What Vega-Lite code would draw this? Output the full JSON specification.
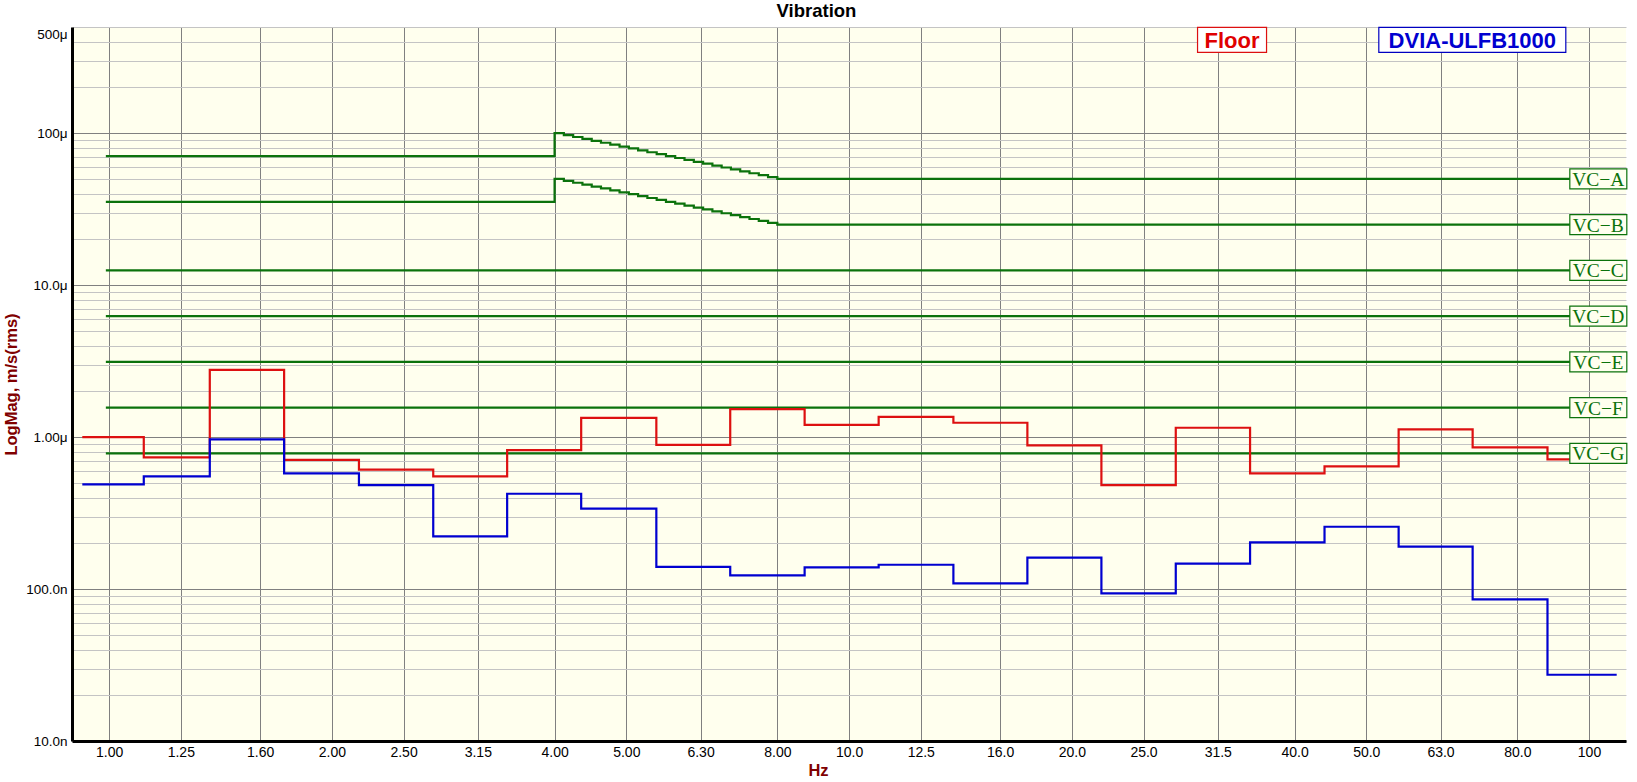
{
  "$schema": "https://vega.github.io/schema/vega-lite/v6.json",
  "autosize": {"type": "none"},
  "width": 1554,
  "height": 714,
  "padding": {"left": 72, "top": 27, "right": 11, "bottom": 41},
  "background": "white",
  "config": {"view": {"fill": "#FFFFEE", "stroke": null}},
  "title": {"text": "Vibration", "font": "Liberation Sans", "fontSize": 18.5, "fontWeight": "bold", "color": "black", "anchor": "middle", "frame": "bounds", "offset": 5},
  "datasets": {
    "spec": [
      {"series": "Floor", "f": 0.920, "v": 1.00e-6},
      {"series": "Floor", "f": 1.114, "v": 0.735e-6},
      {"series": "Floor", "f": 1.368, "v": 2.77e-6},
      {"series": "Floor", "f": 1.724, "v": 0.709e-6},
      {"series": "Floor", "f": 2.176, "v": 0.610e-6},
      {"series": "Floor", "f": 2.742, "v": 0.551e-6},
      {"series": "Floor", "f": 3.451, "v": 0.821e-6},
      {"series": "Floor", "f": 4.345, "v": 1.34e-6},
      {"series": "Floor", "f": 5.490, "v": 0.890e-6},
      {"series": "Floor", "f": 6.909, "v": 1.53e-6},
      {"series": "Floor", "f": 8.709, "v": 1.205e-6},
      {"series": "Floor", "f": 10.965, "v": 1.36e-6},
      {"series": "Floor", "f": 13.836, "v": 1.243e-6},
      {"series": "Floor", "f": 17.418, "v": 0.882e-6},
      {"series": "Floor", "f": 21.93, "v": 0.483e-6},
      {"series": "Floor", "f": 27.64, "v": 1.152e-6},
      {"series": "Floor", "f": 34.83, "v": 0.577e-6},
      {"series": "Floor", "f": 43.91, "v": 0.641e-6},
      {"series": "Floor", "f": 55.30, "v": 1.123e-6},
      {"series": "Floor", "f": 69.62, "v": 0.855e-6},
      {"series": "Floor", "f": 87.88, "v": 0.713e-6},
      {"series": "Floor", "f": 109.0, "v": 0.713e-6},
      {"series": "DVIA-ULFB1000", "f": 0.920, "v": 0.488e-6},
      {"series": "DVIA-ULFB1000", "f": 1.114, "v": 0.551e-6},
      {"series": "DVIA-ULFB1000", "f": 1.368, "v": 0.965e-6},
      {"series": "DVIA-ULFB1000", "f": 1.724, "v": 0.577e-6},
      {"series": "DVIA-ULFB1000", "f": 2.176, "v": 0.483e-6},
      {"series": "DVIA-ULFB1000", "f": 2.742, "v": 0.222e-6},
      {"series": "DVIA-ULFB1000", "f": 3.451, "v": 0.424e-6},
      {"series": "DVIA-ULFB1000", "f": 4.345, "v": 0.338e-6},
      {"series": "DVIA-ULFB1000", "f": 5.490, "v": 0.140e-6},
      {"series": "DVIA-ULFB1000", "f": 6.909, "v": 0.123e-6},
      {"series": "DVIA-ULFB1000", "f": 8.709, "v": 0.139e-6},
      {"series": "DVIA-ULFB1000", "f": 10.965, "v": 0.1445e-6},
      {"series": "DVIA-ULFB1000", "f": 13.836, "v": 0.109e-6},
      {"series": "DVIA-ULFB1000", "f": 17.418, "v": 0.1608e-6},
      {"series": "DVIA-ULFB1000", "f": 21.93, "v": 0.0936e-6},
      {"series": "DVIA-ULFB1000", "f": 27.64, "v": 0.1468e-6},
      {"series": "DVIA-ULFB1000", "f": 34.83, "v": 0.2028e-6},
      {"series": "DVIA-ULFB1000", "f": 43.91, "v": 0.257e-6},
      {"series": "DVIA-ULFB1000", "f": 55.30, "v": 0.190e-6},
      {"series": "DVIA-ULFB1000", "f": 69.62, "v": 0.0855e-6},
      {"series": "DVIA-ULFB1000", "f": 87.88, "v": 0.0273e-6},
      {"series": "DVIA-ULFB1000", "f": 109.0, "v": 0.0273e-6}
    ],
    "vc": [
      {"curve": "VC-A", "f": 0.99, "v": 7.07e-5},
      {"curve": "VC-A", "f": 4.0, "v": 1.0e-4},
      {"curve": "VC-A", "f": 4.117, "v": 9.716e-5},
      {"curve": "VC-A", "f": 4.238, "v": 9.439e-5},
      {"curve": "VC-A", "f": 4.362, "v": 9.170e-5},
      {"curve": "VC-A", "f": 4.490, "v": 8.909e-5},
      {"curve": "VC-A", "f": 4.621, "v": 8.655e-5},
      {"curve": "VC-A", "f": 4.757, "v": 8.409e-5},
      {"curve": "VC-A", "f": 4.896, "v": 8.170e-5},
      {"curve": "VC-A", "f": 5.040, "v": 7.937e-5},
      {"curve": "VC-A", "f": 5.187, "v": 7.711e-5},
      {"curve": "VC-A", "f": 5.339, "v": 7.492e-5},
      {"curve": "VC-A", "f": 5.496, "v": 7.278e-5},
      {"curve": "VC-A", "f": 5.657, "v": 7.071e-5},
      {"curve": "VC-A", "f": 5.822, "v": 6.870e-5},
      {"curve": "VC-A", "f": 5.993, "v": 6.674e-5},
      {"curve": "VC-A", "f": 6.169, "v": 6.484e-5},
      {"curve": "VC-A", "f": 6.350, "v": 6.300e-5},
      {"curve": "VC-A", "f": 6.536, "v": 6.120e-5},
      {"curve": "VC-A", "f": 6.727, "v": 5.946e-5},
      {"curve": "VC-A", "f": 6.924, "v": 5.777e-5},
      {"curve": "VC-A", "f": 7.127, "v": 5.612e-5},
      {"curve": "VC-A", "f": 7.336, "v": 5.453e-5},
      {"curve": "VC-A", "f": 7.551, "v": 5.297e-5},
      {"curve": "VC-A", "f": 7.772, "v": 5.147e-5},
      {"curve": "VC-A", "f": 8.0, "v": 5.0e-5},
      {"curve": "VC-A", "f": 100, "v": 5.0e-5},
      {"curve": "VC-B", "f": 0.99, "v": 3.535e-5},
      {"curve": "VC-B", "f": 4.0, "v": 5.0e-5},
      {"curve": "VC-B", "f": 4.117, "v": 4.858e-5},
      {"curve": "VC-B", "f": 4.238, "v": 4.719e-5},
      {"curve": "VC-B", "f": 4.362, "v": 4.585e-5},
      {"curve": "VC-B", "f": 4.490, "v": 4.454e-5},
      {"curve": "VC-B", "f": 4.621, "v": 4.328e-5},
      {"curve": "VC-B", "f": 4.757, "v": 4.204e-5},
      {"curve": "VC-B", "f": 4.896, "v": 4.085e-5},
      {"curve": "VC-B", "f": 5.040, "v": 3.969e-5},
      {"curve": "VC-B", "f": 5.187, "v": 3.856e-5},
      {"curve": "VC-B", "f": 5.339, "v": 3.746e-5},
      {"curve": "VC-B", "f": 5.496, "v": 3.639e-5},
      {"curve": "VC-B", "f": 5.657, "v": 3.536e-5},
      {"curve": "VC-B", "f": 5.822, "v": 3.435e-5},
      {"curve": "VC-B", "f": 5.993, "v": 3.337e-5},
      {"curve": "VC-B", "f": 6.169, "v": 3.242e-5},
      {"curve": "VC-B", "f": 6.350, "v": 3.150e-5},
      {"curve": "VC-B", "f": 6.536, "v": 3.060e-5},
      {"curve": "VC-B", "f": 6.727, "v": 2.973e-5},
      {"curve": "VC-B", "f": 6.924, "v": 2.888e-5},
      {"curve": "VC-B", "f": 7.127, "v": 2.806e-5},
      {"curve": "VC-B", "f": 7.336, "v": 2.726e-5},
      {"curve": "VC-B", "f": 7.551, "v": 2.649e-5},
      {"curve": "VC-B", "f": 7.772, "v": 2.573e-5},
      {"curve": "VC-B", "f": 8.0, "v": 2.5e-5},
      {"curve": "VC-B", "f": 100, "v": 2.5e-5},
      {"curve": "VC-C", "f": 0.99, "v": 1.25e-5},
      {"curve": "VC-C", "f": 100, "v": 1.25e-5},
      {"curve": "VC-D", "f": 0.99, "v": 6.25e-6},
      {"curve": "VC-D", "f": 100, "v": 6.25e-6},
      {"curve": "VC-E", "f": 0.99, "v": 3.125e-6},
      {"curve": "VC-E", "f": 100, "v": 3.125e-6},
      {"curve": "VC-F", "f": 0.99, "v": 1.5625e-6},
      {"curve": "VC-F", "f": 100, "v": 1.5625e-6},
      {"curve": "VC-G", "f": 0.99, "v": 7.8125e-7},
      {"curve": "VC-G", "f": 100, "v": 7.8125e-7}
    ],
    "vclab": [
      {"label": "VC−A", "v": 5.0e-5},
      {"label": "VC−B", "v": 2.5e-5},
      {"label": "VC−C", "v": 1.25e-5},
      {"label": "VC−D", "v": 6.25e-6},
      {"label": "VC−E", "v": 3.125e-6},
      {"label": "VC−F", "v": 1.5625e-6},
      {"label": "VC−G", "v": 7.8125e-7}
    ]
  },
  "layer": [
    {
      "data": {"name": "vc"},
      "mark": {"type": "line", "interpolate": "step-after", "color": "#0B720B", "strokeWidth": 2.2, "clip": true},
      "encoding": {
        "x": {
          "field": "f", "type": "quantitative",
          "scale": {"type": "log", "domain": [0.891, 112.2], "nice": false, "zero": false},
          "axis": {
            "values": [1, 1.25, 1.6, 2, 2.5, 3.15, 4, 5, 6.3, 8, 10, 12.5, 16, 20, 25, 31.5, 40, 50, 63, 80, 100],
            "format": ".3r",
            "grid": true, "gridColor": "#808080", "gridWidth": 1, "gridOpacity": 1,
            "ticks": false,
            "domainColor": "black", "domainWidth": 3,
            "labelFont": "Liberation Sans", "labelFontSize": 14, "labelColor": "black", "labelPadding": 4,
            "labelFlush": false, "labelOverlap": false,
            "title": "Hz", "titleFont": "Liberation Sans", "titleFontSize": 16.5, "titleFontWeight": "bold",
            "titleColor": "#800000", "titleX": 746, "titlePadding": 3
          }
        },
        "y": {
          "field": "v", "type": "quantitative",
          "scale": {"type": "log", "domain": [1e-8, 5e-4], "nice": false, "zero": false},
          "axis": {
            "values": [1e-8, 2e-8, 3e-8, 4e-8, 5e-8, 6e-8, 7e-8, 8e-8, 9e-8, 1e-7, 2e-7, 3e-7, 4e-7, 5e-7, 6e-7, 7e-7, 8e-7, 9e-7, 1e-6, 2e-6, 3e-6, 4e-6, 5e-6, 6e-6, 7e-6, 8e-6, 9e-6, 1e-5, 2e-5, 3e-5, 4e-5, 5e-5, 6e-5, 7e-5, 8e-5, 9e-5, 1e-4, 2e-4, 3e-4, 4e-4, 5e-4],
            "labelExpr": "datum.value == 1e-8 ? '10.0n' : datum.value == 1e-7 ? '100.0n' : datum.value == 1e-6 ? '1.00μ' : datum.value == 1e-5 ? '10.0μ' : datum.value == 1e-4 ? '100μ' : datum.value == 5e-4 ? '500μ' : ''",
            "labelBaseline": {"condition": {"test": "datum.value == 5e-4", "value": "top"}, "value": "middle"},
            "grid": true, "gridWidth": 1, "gridOpacity": 1,
            "gridColor": {"condition": {"test": "datum.value == 1e-8 || datum.value == 1e-7 || datum.value == 1e-6 || datum.value == 1e-5 || datum.value == 1e-4", "value": "#808080"}, "value": "#C4C4C4"},
            "ticks": false,
            "domainColor": "black", "domainWidth": 3,
            "labelFont": "Liberation Sans", "labelFontSize": 13.5, "labelColor": "black", "labelPadding": 5,
            "labelOverlap": false, "labelFlush": false,
            "title": "LogMag, m/s(rms)", "titleFont": "Liberation Sans", "titleFontSize": 16.5, "titleFontWeight": "bold",
            "titleColor": "#800000", "titlePadding": 6
          }
        },
        "detail": {"field": "curve", "type": "nominal"}
      }
    },
    {
      "data": {"name": "spec"},
      "transform": [{"filter": "datum.series == 'Floor'"}],
      "mark": {"type": "line", "interpolate": "step-after", "color": "#DD1010", "strokeWidth": 2.2, "clip": true},
      "encoding": {
        "x": {"field": "f", "type": "quantitative"},
        "y": {"field": "v", "type": "quantitative"}
      }
    },
    {
      "data": {"name": "spec"},
      "transform": [{"filter": "datum.series == 'DVIA-ULFB1000'"}],
      "mark": {"type": "line", "interpolate": "step-after", "color": "#0000D0", "strokeWidth": 2.2, "clip": true},
      "encoding": {
        "x": {"field": "f", "type": "quantitative"},
        "y": {"field": "v", "type": "quantitative"}
      }
    },
    {
      "data": {"name": "vclab"},
      "mark": {"type": "point", "shape": "M-1,-0.351H1V0.351H-1Z", "size": 3249, "filled": true, "fill": "#FFFFEE", "stroke": "#0B720B", "strokeWidth": 1.2, "opacity": 1, "fillOpacity": 1},
      "encoding": {
        "x": {"datum": 102.94, "type": "quantitative"},
        "y": {"field": "v", "type": "quantitative"}
      }
    },
    {
      "data": {"name": "vclab"},
      "mark": {"type": "text", "font": "Liberation Serif", "fontSize": 19.5, "color": "#0B720B", "align": "center", "baseline": "middle", "dy": 1},
      "encoding": {
        "x": {"datum": 102.94, "type": "quantitative"},
        "y": {"field": "v", "type": "quantitative"},
        "text": {"field": "label"}
      }
    },
    {
      "data": {"values": [{"label": "Floor"}]},
      "mark": {"type": "point", "shape": "M-1,-0.362H1V0.362H-1Z", "size": 4761, "filled": true, "fill": "white", "stroke": "#DD1010", "strokeWidth": 1.2, "opacity": 1, "fillOpacity": 1},
      "encoding": {
        "x": {"datum": 32.93, "type": "quantitative"},
        "y": {"datum": 4.11e-4, "type": "quantitative"}
      }
    },
    {
      "data": {"values": [{"label": "Floor"}]},
      "mark": {"type": "text", "font": "Liberation Sans", "fontSize": 22, "fontWeight": "bold", "color": "#E00000", "align": "center", "baseline": "middle", "dy": 1},
      "encoding": {
        "x": {"datum": 32.93, "type": "quantitative"},
        "y": {"datum": 4.11e-4, "type": "quantitative"},
        "text": {"field": "label"}
      }
    },
    {
      "data": {"values": [{"label": "DVIA-ULFB1000"}]},
      "mark": {"type": "point", "shape": "M-1,-0.134H1V0.134H-1Z", "size": 34969, "filled": true, "fill": "white", "stroke": "#0000C0", "strokeWidth": 1.2, "opacity": 1, "fillOpacity": 1},
      "encoding": {
        "x": {"datum": 69.55, "type": "quantitative"},
        "y": {"datum": 4.11e-4, "type": "quantitative"}
      }
    },
    {
      "data": {"values": [{"label": "DVIA-ULFB1000"}]},
      "mark": {"type": "text", "font": "Liberation Sans", "fontSize": 22, "fontWeight": "bold", "color": "#0000D0", "align": "center", "baseline": "middle", "dy": 1},
      "encoding": {
        "x": {"datum": 69.55, "type": "quantitative"},
        "y": {"datum": 4.11e-4, "type": "quantitative"},
        "text": {"field": "label"}
      }
    }
  ]
}
